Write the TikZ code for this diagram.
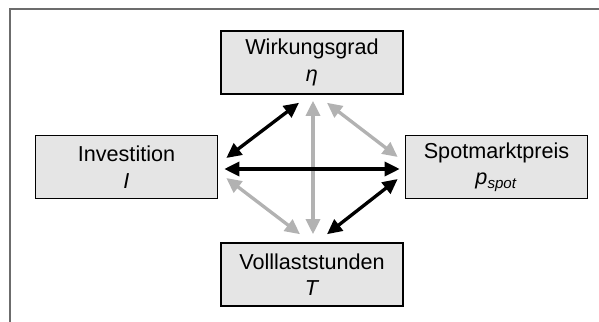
\documentclass[tikz,border=0pt]{standalone}
\usepackage{fontspec}
\setmainfont{Liberation Sans}
\usetikzlibrary{arrows.meta, calc}

\begin{document}
\begin{tikzpicture}[
  factor/.style={
    rectangle, minimum width=3.64cm, minimum height=1.26cm,
    font=\fontsize{12.3}{15}\selectfont, align=center, draw=black,
    fill=gray!20, line width=0.9pt, inner sep=0pt,
  },
  link/.style={
    {Triangle[length=0.30cm,width=0.28cm]}-{Triangle[length=0.30cm,width=0.28cm]},
    line width=1.9pt,
  },
]
  \useasboundingbox (-6.24,-3.10) rectangle (5.74,3.34);
  % open frame, only top and left edges
  \draw[gray!85!black, line width=1.1pt] (5.74,3.16) -- (-6.04,3.16) -- (-6.04,-3.10);

  \node[factor] (eta) at (0,2.09) {Wirkungsgrad\\\textit{η}};
  \node[factor] (inv) at (-3.71,0) {Investition\\\textit{I}};
  \node[factor] (spot) at (3.69,0) {Spotmarktpreis\\\textit{p}\textsubscript{\textit{spot}}};
  \node[factor] (vls) at (0,-2.15) {Volllaststunden\\\textit{T}};

  % weak links (grey)
  \draw[link, gray!60] ($(eta.south)+(0.02,-0.12)$) -- ($(vls.north)+(0.02,0.16)$);
  \draw[link, gray!60] ($(eta.south)+(0.30,-0.16)$) -- ($(spot.west)+(-0.14,0.20)$);
  \draw[link, gray!60] ($(inv.east)+(0.16,-0.22)$) -- ($(vls.north)+(-0.24,0.16)$);

  % strong links (black)
  \draw[link, black] ($(eta.south)+(-0.26,-0.16)$) -- ($(inv.east)+(0.16,0.18)$);
  \draw[link, black] ($(inv.east)+(0.12,-0.04)$) -- ($(spot.west)+(-0.10,-0.04)$);
  \draw[link, black] ($(spot.west)+(-0.14,-0.24)$) -- ($(vls.north)+(0.30,0.16)$);
\end{tikzpicture}
\end{document}
